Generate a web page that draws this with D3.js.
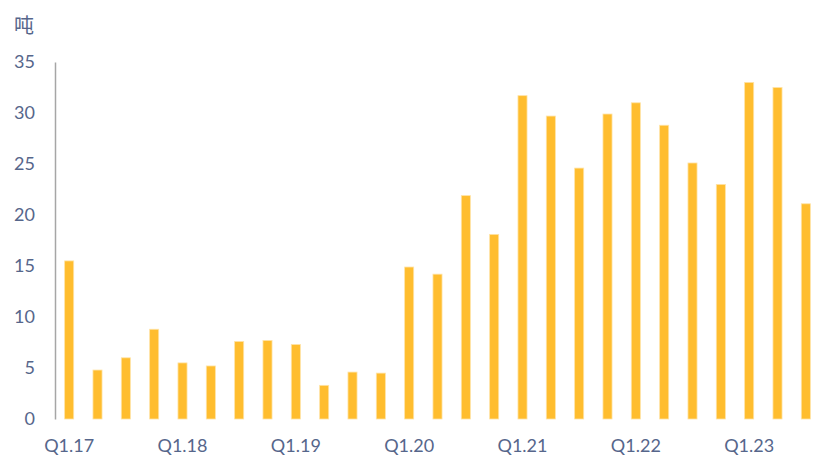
<!DOCTYPE html>
<html><head><meta charset="utf-8">
<script src="https://cdn.jsdelivr.net/npm/d3@7"></script>
<style>html,body{margin:0;padding:0;background:#fff;}</style>
</head><body>
<svg id="c" width="819" height="456"></svg>
<script>
const categories = ["Q1.17","Q2.17","Q3.17","Q4.17","Q1.18","Q2.18","Q3.18","Q4.18","Q1.19","Q2.19","Q3.19","Q4.19","Q1.20","Q2.20","Q3.20","Q4.20","Q1.21","Q2.21","Q3.21","Q4.21","Q1.22","Q2.22","Q3.22","Q4.22","Q1.23","Q2.23","Q3.23"];
const values = [15.5,4.8,6.0,8.8,5.5,5.2,7.6,7.7,7.3,3.3,4.6,4.5,14.9,14.2,21.9,18.1,31.7,29.7,24.6,29.9,31.0,28.8,25.1,23.0,33.0,32.5,21.1];
const yTicks = [0,5,10,15,20,25,30,35];
const xTickLabels = ["Q1.17","Q1.18","Q1.19","Q1.20","Q1.21","Q1.22","Q1.23"];
const unitLabel = "吨";

(function(){
const svg = d3.select("#c");
const font = "Lato, 'Noto Sans CJK SC', sans-serif";
const textColor = "#56668b";
const mLeft = 55, mRight = 820, mTop = 62, mBottom = 419;

const x = d3.scaleBand().domain(categories).range([mLeft, mRight]).paddingInner(0.68).paddingOuter(0.34);
const y = d3.scaleLinear().domain([0, 35]).range([mBottom, mTop]);

svg.append("g").selectAll("rect").data(values).join("rect")
  .attr("x", (d,i) => x(categories[i]))
  .attr("width", x.bandwidth())
  .attr("y", d => y(d))
  .attr("height", d => y(0) - y(d))
  .attr("fill", "#FFBD2E")
  .attr("stroke", "#FFE3A6")
  .attr("stroke-width", 0.8);

const yAxis = svg.append("g").attr("transform", `translate(${mLeft},0)`)
  .call(d3.axisLeft(y).tickValues(yTicks).tickSize(0).tickPadding(20));
yAxis.select(".domain").attr("stroke", "#A6A6A6").attr("stroke-width", 1.5);
yAxis.selectAll("text").attr("font-family", font).attr("font-size", 18).attr("fill", textColor);

const xAxis = svg.append("g").attr("transform", `translate(0,${mBottom})`)
  .call(d3.axisBottom(x).tickValues(xTickLabels).tickSize(0).tickPadding(20));
xAxis.select(".domain").remove();
xAxis.selectAll("text").attr("font-family", font).attr("font-size", 18).attr("fill", textColor);

svg.append("text").attr("x", 14).attr("y", 33).text(unitLabel)
  .attr("font-family", "'Noto Sans CJK SC', sans-serif").attr("font-size", 20).attr("fill", textColor);
})();
</script>
</body></html>
